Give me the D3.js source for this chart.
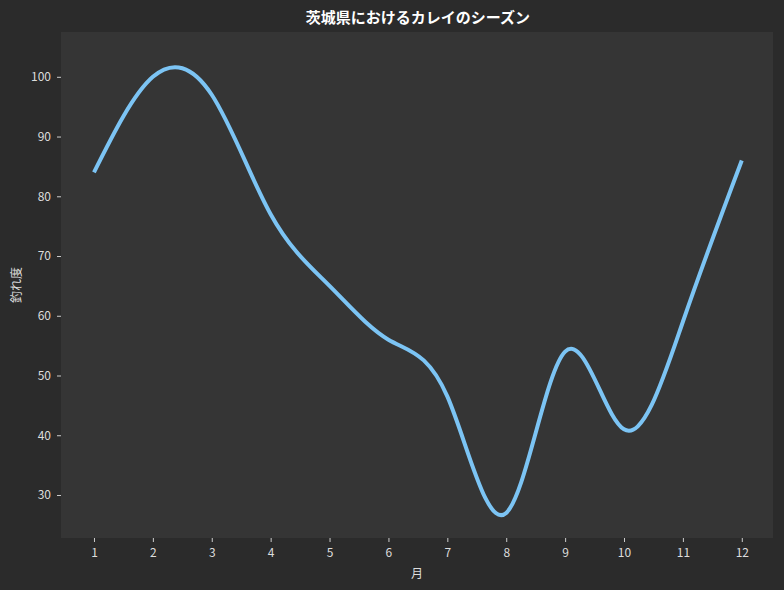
<!DOCTYPE html>
<meta charset="utf-8">
<style>
body { margin: 0; background: #2b2b2b; }
text { font-family: "Noto Sans CJK JP", "Noto Sans", sans-serif; }
.axis path { stroke: none; }
.axis line { stroke: #cccccc; }
.axis text { fill: #dddddd; font-size: 12px; }
</style>
<script src="https://d3js.org/d3.v7.min.js"></script>
<div id="viz"></div>
<script>
var months = [1, 2, 3, 4, 5, 6, 7, 8, 9, 10, 11, 12];
var catch_rate = [84, 100, 97, 77, 65, 56, 46.5, 27, 54, 41, 59, 86];
var yTicks = [30, 40, 50, 60, 70, 80, 90, 100];

var W = 784, H = 590;
var margin = {top: 32, right: 11, bottom: 52, left: 61};
var width = W - margin.left - margin.right;
var height = H - margin.top - margin.bottom;

var svg = d3.select('#viz').append('svg')
    .attr('width', W).attr('height', H)
    .style('background', '#2b2b2b');

var g = svg.append('g')
    .attr('transform', 'translate(' + margin.left + ',' + margin.top + ')');

g.append('rect').attr('width', width).attr('height', height).attr('fill', '#353535');

var x = d3.scaleLinear().domain([0.44, 12.53]).range([0, width]);
var y = d3.scaleLinear().domain([22.8, 107.5]).range([height, 0]);

g.append('g').attr('class', 'axis')
    .attr('transform', 'translate(0,' + height + ')')
    .call(d3.axisBottom(x).tickValues(months).tickFormat(d3.format('d')).tickSize(4).tickPadding(6));

g.append('g').attr('class', 'axis')
    .call(d3.axisLeft(y).tickValues(yTicks).tickSize(4).tickPadding(6));

var line = d3.line()
    .x(function(d, i) { return x(months[i]); })
    .y(function(d) { return y(d); })
    .curve(d3.curveNatural);

g.append('path')
    .datum(catch_rate)
    .attr('d', line)
    .attr('fill', 'none')
    .attr('stroke', '#7cc4f4')
    .attr('stroke-width', 4);

svg.append('text')
    .attr('x', W / 2 + 26).attr('y', 23)
    .attr('text-anchor', 'middle')
    .attr('fill', '#ffffff').style('font-size', '15px').style('font-weight', 'bold')
    .text('茨城県におけるカレイのシーズン');

svg.append('text')
    .attr('x', margin.left + width / 2).attr('y', 578)
    .attr('text-anchor', 'middle')
    .attr('fill', '#dddddd').style('font-size', '12px')
    .text('月');

svg.append('text')
    .attr('transform', 'translate(21,' + (margin.top + height / 2) + ') rotate(-90)')
    .attr('text-anchor', 'middle')
    .attr('fill', '#dddddd').style('font-size', '12px')
    .text('釣れ度');
</script>
